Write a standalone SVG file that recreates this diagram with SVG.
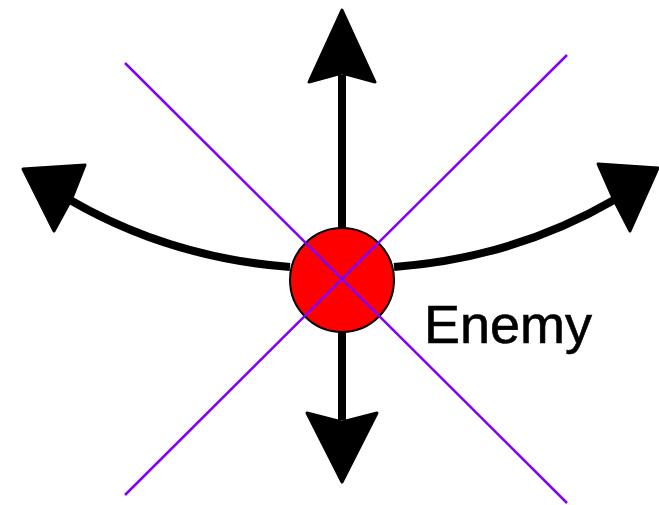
<svg xmlns="http://www.w3.org/2000/svg" width="659" height="505" viewBox="0 0 659 505">
<style>
.shaft{fill:none;stroke:#000;stroke-width:8}
.head{fill:#000;stroke:#000;stroke-width:3;stroke-linejoin:round}
.diag{stroke:#8000ff;stroke-width:2.5}
.lbl{font-family:"Liberation Sans",Arial,sans-serif;font-size:54px;fill:#000;stroke:#000;stroke-width:0.6}
</style>
<rect width="659" height="505" fill="#fff"/>
<g id="connectors">
<line class="shaft" x1="342" y1="228" x2="342" y2="75"/>
<path class="head" d="M342,10 L375,82 L342,73 L309,82 Z"/>
<line class="shaft" x1="342" y1="332" x2="342" y2="420"/>
<path class="head" d="M342,482 L377,413 L342,422 L307,413 Z"/>
<path class="shaft" d="M290,267 Q170,258 70,200"/>
<path class="head" d="M23,169 L85,165 L72,198 L54,231 Z"/>
<path class="shaft" d="M394,267 Q514,258 614,200"/>
<path class="head" d="M658,168 L598,164 L613,198 L630,231 Z"/>
</g>
<g id="enemy">
<circle cx="342" cy="280" r="52" fill="#ff0000" stroke="#000" stroke-width="2"/>
</g>
<g id="diagonals">
<line class="diag" x1="125" y1="63" x2="567" y2="503"/>
<line class="diag" x1="567" y1="55" x2="125" y2="495"/>
</g>
<text class="lbl" x="424" y="343">Enemy</text>
</svg>
